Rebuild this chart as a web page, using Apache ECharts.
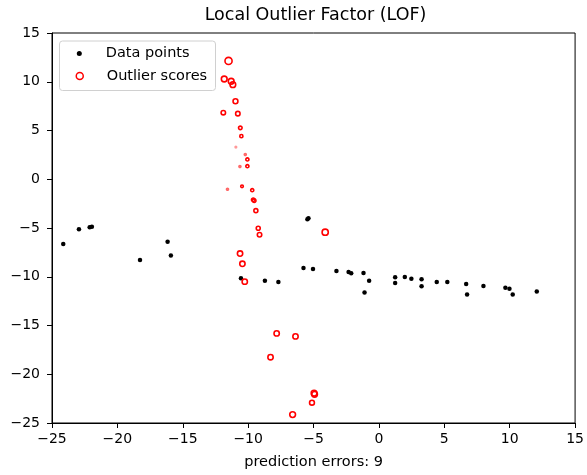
<!DOCTYPE html>
<html>
<head>
<meta charset="utf-8">
<script src="https://cdn.jsdelivr.net/npm/echarts@6/dist/echarts.min.js"></script>
<style>html,body{margin:0;padding:0;background:#fff}#c{width:587px;height:475px}</style>
</head>
<body>
<div id="c"></div>
<script>
// Data points (black)
const dataX = [-24.14, -22.94, -22.12, -21.95, -18.27, -16.16, -15.91, -10.55, -8.72, -7.69,
  -5.77, -5.04, -5.47, -5.39, -3.25, -2.32, -2.12, -1.18, -0.75, -1.10,
  1.24, 1.24, 1.98, 2.48, 3.26, 3.26, 4.42, 5.23, 6.67, 6.74,
  7.99, 9.67, 9.98, 10.23, 12.07];
const dataY = [-6.64, -5.12, -4.92, -4.88, -8.27, -6.40, -7.82, -10.16, -10.40, -10.53,
  -9.11, -9.21, -4.10, -4.00, -9.42, -9.52, -9.65, -9.62, -10.40, -11.62,
  -10.06, -10.63, -10.03, -10.20, -10.26, -10.97, -10.53, -10.53, -10.74, -11.82,
  -10.94, -11.14, -11.24, -11.82, -11.52];

// Outlier scores (red hollow circles), score = normalized LOF
const outX = [-11.50, -11.83, -11.30, -11.17, -10.97, -11.90, -10.79, -10.60, -10.52, -10.94,
  -10.22, -10.06, -10.63, -10.06, -11.58, -10.47, -9.69, -9.61, -9.54, -9.41,
  -9.23, -9.13, -4.11, -10.62, -10.44, -10.26, -7.82, -6.38, -8.29, -4.96,
  -4.92, -5.12, -6.60];
const outY = [12.14, 10.28, 10.05, 9.70, 8.00, 6.83, 6.73, 5.27, 4.42, 3.30,
  2.53, 2.03, 1.30, 1.34, -1.02, -0.72, -1.12, -2.10, -2.20, -3.22,
  -5.02, -5.69, -5.43, -7.62, -8.67, -10.50, -15.81, -16.12, -18.25, -21.94,
  -22.06, -22.92, -24.14];
const outScore = [0.79, 0.52, 0.52, 0.50, 0.37, 0.31, 0.31, 0.20, 0.16, 0.04,
  0.06, 0.15, 0.06, 0.15, 0.06, 0.11, 0.15, 0.20, 0.20, 0.25,
  0.25, 0.31, 0.60, 0.44, 0.44, 0.44, 0.44, 0.44, 0.44, 0.52,
  0.50, 0.37, 0.52];

// Axis ticks
const xTicks = [-25, -20, -15, -10, -5, 0, 5, 10, 15];
const yTicks = [-25, -20, -15, -10, -5, 0, 5, 10, 15];

const FONT = 'DejaVu Sans';
const fmt = v => String(v).replace('-', '\u2212');

const dataPts = dataX.map((x, i) => [x, dataY[i]]);
const outPts = outX.map((x, i) => ({
  value: [x, outY[i], outScore[i]],
  itemStyle: { opacity: Math.min(1, outScore[i] / 0.1) }
}));

const chart = echarts.init(document.getElementById('c'), null, { renderer: 'canvas' });
chart.setOption({
  animation: false,
  backgroundColor: '#fff',
  title: {
    text: 'Local Outlier Factor (LOF)',
    left: 315.5, textAlign: 'center', top: 6, padding: 0,
    textStyle: { fontFamily: FONT, fontSize: 17.5, fontWeight: 'normal', color: '#000' }
  },
  grid: { left: 52, right: 7.3, top: 33, bottom: 48.3, show: true, borderColor: '#000', borderWidth: 1, backgroundColor: 'transparent' },
  graphic: [{
    type: 'rect', left: 59, top: 40.5, z: 50,
    shape: { width: 156, height: 49.5, r: 3 },
    style: { fill: 'rgba(255,255,255,0.8)', stroke: '#d0d0d0', lineWidth: 1 }
  }],
  legend: [{
    orient: 'vertical', left: 76.8, top: 45, z: 60, padding: 0,
    itemWidth: 5, itemHeight: 5,
    textStyle: { fontFamily: FONT, fontSize: 14.5, color: '#000', padding: [0, 0, 0, 19], lineHeight: 17 },
    data: [{ name: 'Data points', icon: 'circle', itemStyle: { color: '#000', opacity: 1 } }]
  }, {
    orient: 'vertical', left: 75.5, top: 67.5, z: 60, padding: 0,
    itemWidth: 7, itemHeight: 7,
    textStyle: { fontFamily: FONT, fontSize: 14.5, color: '#000', padding: [0, 0, 0, 18.5], lineHeight: 17 },
    data: [{ name: 'Outlier scores', icon: 'circle', itemStyle: { color: 'rgba(0,0,0,0)', borderColor: '#ff0000', borderWidth: 1.5, opacity: 1 } }]
  }],
  xAxis: {
    type: 'value', min: -25, max: 15, interval: 5,
    name: 'prediction errors: 9', nameLocation: 'middle', nameGap: 32,
    nameTextStyle: { fontFamily: FONT, fontSize: 14.5, color: '#000' },
    axisLine: { show: true, onZero: false, lineStyle: { color: '#000', width: 1 } },
    axisTick: { show: true, length: 5, lineStyle: { color: '#000' } },
    axisLabel: { fontFamily: FONT, fontSize: 14, color: '#000', margin: 9, formatter: v => xTicks.includes(v) ? fmt(v) : '' },
    splitLine: { show: false }
  },
  yAxis: {
    type: 'value', min: -25, max: 15, interval: 5,
    axisLine: { show: true, onZero: false, lineStyle: { color: '#000', width: 1 } },
    axisTick: { show: true, length: 5, lineStyle: { color: '#000' } },
    axisLabel: { fontFamily: FONT, fontSize: 14, color: '#000', margin: 12, formatter: v => yTicks.includes(v) ? fmt(v) : '' },
    splitLine: { show: false }
  },
  series: [{
    name: 'Data points', type: 'scatter', data: dataPts,
    symbol: 'circle', symbolSize: 4.5,
    itemStyle: { color: '#000', opacity: 1 }, z: 2,
    emphasis: { disabled: true }
  }, {
    name: 'Outlier scores', type: 'scatter', data: outPts,
    symbol: 'circle', symbolSize: v => 8 * Math.sqrt(v[2]),
    itemStyle: { color: 'rgba(0,0,0,0)', borderColor: '#ff0000', borderWidth: 1.6 }, z: 3,
    emphasis: { disabled: true }
  }]
});
</script>
</body>
</html>
